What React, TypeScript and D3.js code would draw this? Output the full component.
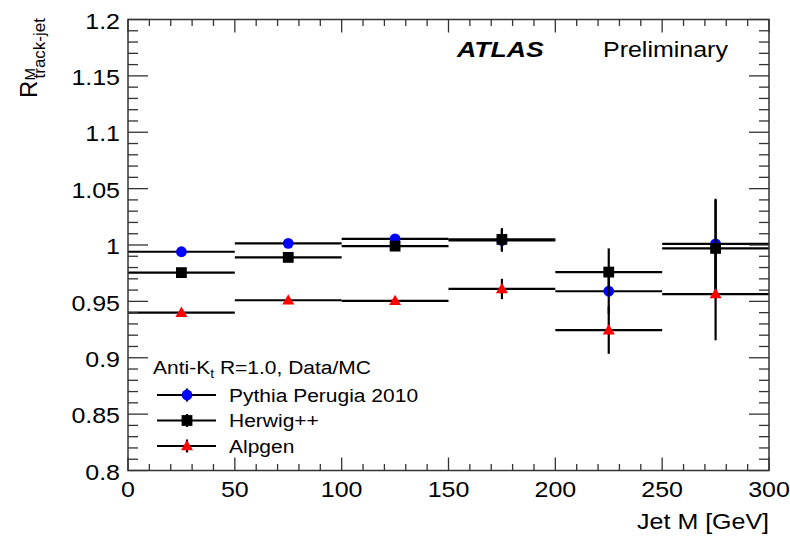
import React from "react";
import * as d3 from "d3";

const binEdges = [0, 50, 100, 150, 200, 250, 300];
const binCenters = [25, 75, 125, 175, 225, 275];

const pythiaValues = [0.994, 1.0015, 1.0055, 1.004, 0.959, 1.001];
const pythiaErrors = [0.002, 0.002, 0.003, 0.01, 0.02, 0.04];
const herwigValues = [0.9755, 0.989, 0.999, 1.005, 0.976, 0.997];
const herwigErrors = [0.002, 0.002, 0.003, 0.01, 0.021, 0.043];
const alpgenValues = [0.94, 0.951, 0.9505, 0.961, 0.9245, 0.9565];
const alpgenErrors = [0.002, 0.002, 0.003, 0.009, 0.021, 0.041];

const xTicks = [0, 50, 100, 150, 200, 250, 300];
const xTickLabels = ["0", "50", "100", "150", "200", "250", "300"];
const yTicks = [0.8, 0.85, 0.9, 0.95, 1.0, 1.05, 1.1, 1.15, 1.2];
const yTickLabels = ["0.8", "0.85", "0.9", "0.95", "1", "1.05", "1.1", "1.15", "1.2"];

const seriesNames = ["Pythia Perugia 2010", "Herwig++", "Alpgen"];
const seriesColors = ["#0000ff", "#000000", "#ff0000"];
const seriesMarkers = ["circle", "square", "triangle"];

const W = 790;
const H = 536;
const SQ = 0.86;
const FONT = "'Liberation Sans', Arial, Helvetica, sans-serif";

const x = d3.scaleLinear().domain([0, 300]).range([128, 769]);
const y = d3.scaleLinear().domain([0.8, 1.2]).range([470.5, 19.5]);

function T(props: any) {
  const { x: tx, y: ty, anchor = "start", size = 25, weight = "normal", italic = false, children } = props;
  return (
    <text
      transform={`translate(${tx},${ty}) scale(1,${SQ})`}
      textAnchor={anchor}
      fontSize={size}
      fontWeight={weight}
      fontStyle={italic ? "italic" : "normal"}
      fontFamily={FONT}
      fill="#000"
    >
      {children}
    </text>
  );
}

function Marker({ kind, cx, cy, color }: any) {
  if (kind === "circle") return <circle cx={cx} cy={cy} r={5.4} fill={color} />;
  if (kind === "square") return <rect x={cx - 5.4} y={cy - 5.4} width={10.8} height={10.8} fill={color} />;
  const sym = d3.symbol().type(d3.symbolTriangle).size(62)();
  return <path d={sym as string} transform={`translate(${cx},${cy + 0.8})`} fill={color} />;
}

export default function App() {
  const series = [
    { vals: pythiaValues, errs: pythiaErrors },
    { vals: herwigValues, errs: herwigErrors },
    { vals: alpgenValues, errs: alpgenErrors },
  ];
  const [x0, x1] = x.range();
  const [yb, yt] = y.range();
  const xMinor = d3.range(0, 301, 10);
  const yMinor = d3.range(0, 41).map((i) => 0.8 + i * 0.01);
  const tickColor = "#333";

  return (
    <svg width={W} height={H} style={{ position: "fixed", left: 0, top: 0, background: "#fff" }}>
      <rect width={W} height={H} fill="#fff" />
      {/* data */}
      {series.map((s, si) => (
        <g key={si}>
          {s.vals.map((v, i) => (
            <g key={i}>
              <line x1={x(binEdges[i])} x2={x(binEdges[i + 1])} y1={y(v)} y2={y(v)} stroke="#000" strokeWidth={2.2} />
              <line x1={x(binCenters[i])} x2={x(binCenters[i])} y1={y(v - s.errs[i])} y2={y(v + s.errs[i])} stroke="#000" strokeWidth={2.2} />
            </g>
          ))}
          {s.vals.map((v, i) => (
            <Marker key={"m" + i} kind={seriesMarkers[si]} cx={x(binCenters[i])} cy={y(v)} color={seriesColors[si]} />
          ))}
        </g>
      ))}
      {/* ticks */}
      <g stroke={tickColor} strokeWidth={1.3}>
        {yMinor.map((v, i) => {
          const major = i % 5 === 0;
          const len = major ? 20 : 10;
          return (
            <g key={"y" + i}>
              <line x1={x0} x2={x0 + len} y1={y(v)} y2={y(v)} />
              <line x1={x1} x2={x1 - len} y1={y(v)} y2={y(v)} />
            </g>
          );
        })}
        {xMinor.map((v, i) => {
          const major = i % 5 === 0;
          const len = major ? 13 : 6.5;
          return (
            <g key={"x" + i}>
              <line x1={x(v)} x2={x(v)} y1={yb} y2={yb - len} />
              <line x1={x(v)} x2={x(v)} y1={yt} y2={yt + len} />
            </g>
          );
        })}
      </g>
      <rect x={x0} y={yt} width={x1 - x0} height={yb - yt} fill="none" stroke={tickColor} strokeWidth={1.5} />
      {/* tick labels */}
      {yTicks.map((v, i) => (
        <T key={"yl" + i} x={120} y={y(v) + 9.2} anchor="end" size={25}>
          {yTickLabels[i]}
        </T>
      ))}
      {xTicks.map((v, i) => (
        <T key={"xl" + i} x={x(v)} y={497} anchor="middle" size={25}>
          {xTickLabels[i]}
        </T>
      ))}
      {/* axis titles */}
      <T x={769} y={529} anchor="end" size={25}>
        Jet M [GeV]
      </T>
      <text transform="translate(36.7,98) rotate(-90)" fontSize={24} fontFamily={FONT}>R</text>
      <text transform="translate(34.5,80.5) rotate(-90)" fontSize={15} fontFamily={FONT}>M</text>
      <text transform="translate(44.5,78.5) rotate(-90)" fontSize={17} fontFamily={FONT}>track-jet</text>
      {/* ATLAS label */}
      <T x={457} y={57} size={26.6} weight="bold" italic>
        ATLAS
      </T>
      <T x={603} y={57} size={25}>
        Preliminary
      </T>
      {/* legend */}
      <text transform={`translate(153,374) scale(1,${SQ})`} fontSize={21} fontFamily={FONT}>
        Anti-K
        <tspan fontSize={14} dy={5}>t</tspan>
        <tspan dy={-5}> R=1.0, Data/MC</tspan>
      </text>
      {seriesNames.map((name, i) => {
        const cy = [395, 420.5, 446][i];
        return (
          <g key={"lg" + i}>
            <line x1={157} x2={216} y1={cy} y2={cy} stroke="#000" strokeWidth={2.2} />
            <line x1={187} x2={187} y1={cy - 6.5} y2={cy + 6.5} stroke="#000" strokeWidth={2.2} />
            <Marker kind={seriesMarkers[i]} cx={187} cy={cy} color={seriesColors[i]} />
            <T x={229} y={cy + 6.5} size={21}>
              {name}
            </T>
          </g>
        );
      })}
    </svg>
  );
}
